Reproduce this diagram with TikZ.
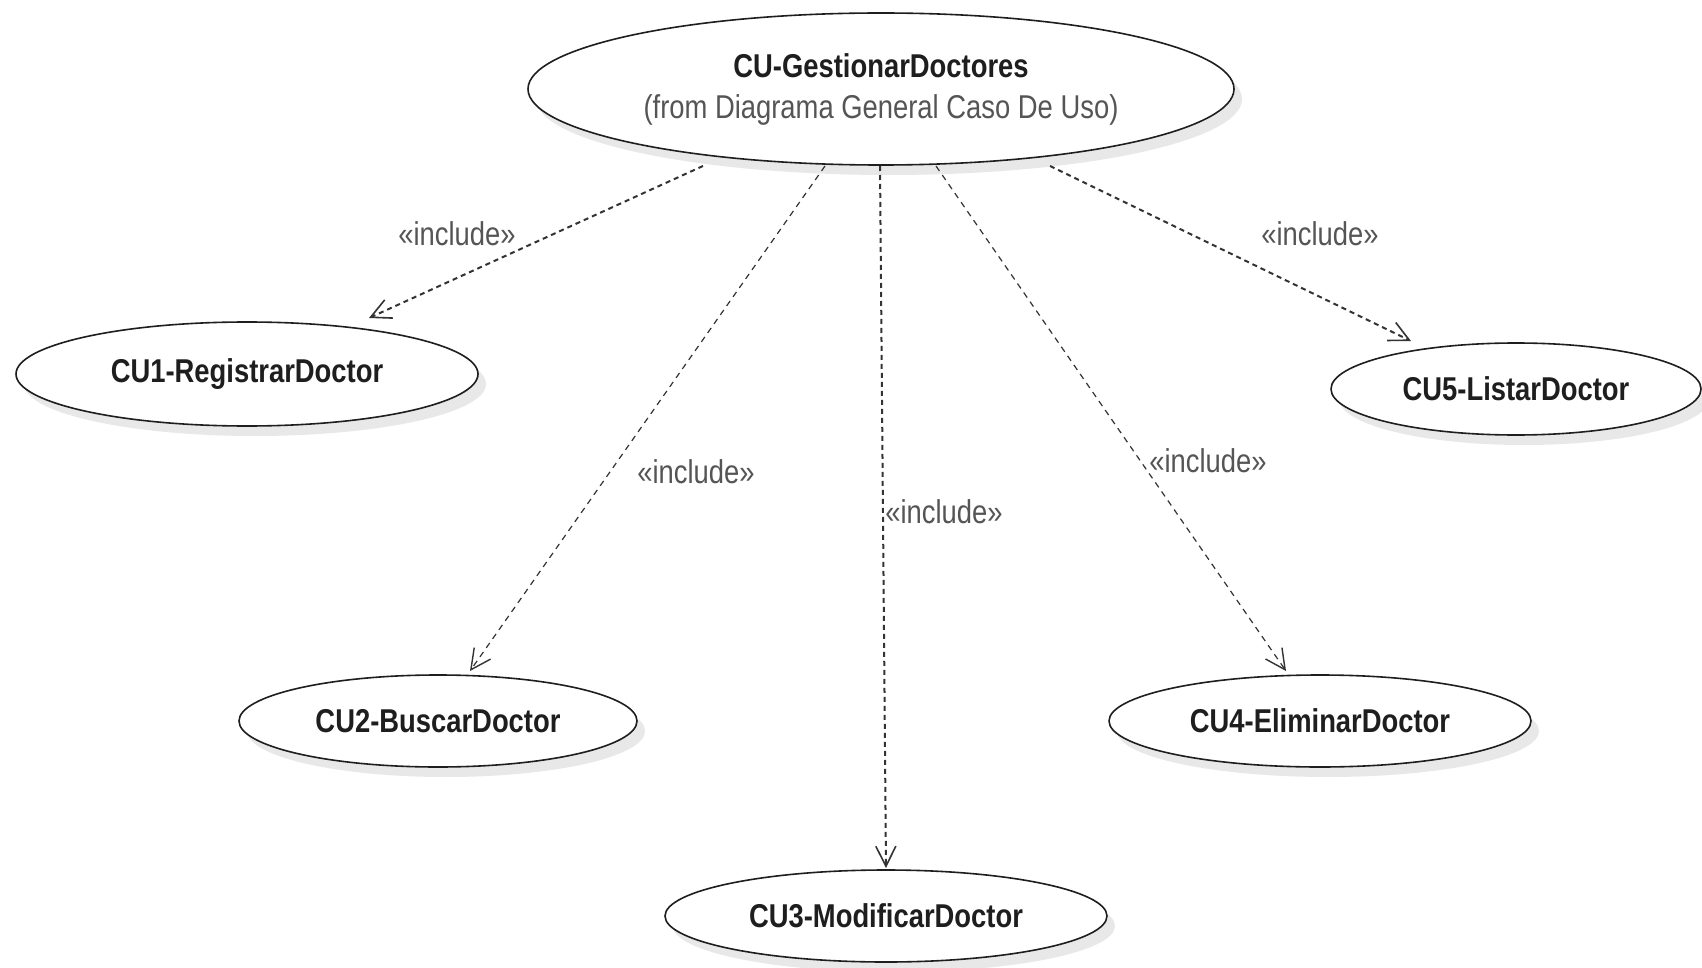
\documentclass[tikz,border=0pt]{standalone}
\usepackage{fontspec}
\setmainfont{Liberation Sans}[FakeStretch=0.83]
\usetikzlibrary{shapes.geometric,arrows.meta,shadows}
\definecolor{lbl}{HTML}{555555}
\definecolor{ink}{HTML}{1E1E1E}
\begin{document}
\begin{tikzpicture}[x=1pt,y=-1pt,
  usecase/.style={ellipse, draw=ink, line width=1.6pt, fill=white, inner sep=0pt,
    font=\fontsize{33}{38}\selectfont\bfseries, text=ink,
    drop shadow={shadow xshift=8pt, shadow yshift=-10pt, fill=black!9, opacity=1}},
  incl/.style={dash pattern=on 5pt off 4pt, line width=2pt, draw=black!80,
    -{Straight Barb[length=20pt,width=20pt,line width=1.6pt]}},
  inclthin/.style={dash pattern=on 6pt off 5pt, line width=1.2pt, draw=black!80,
    -{Straight Barb[length=20pt,width=20pt,line width=1.4pt]}},
  lab/.style={font=\fontsize{33}{38}\selectfont, text=lbl, inner sep=0pt}]
\useasboundingbox (0,0) rectangle (1702,968);
\fill[white] (0,0) rectangle (1702,968);

\node[usecase, minimum width=706pt, minimum height=152pt, align=center] (top) at (881,89)
  {CU-GestionarDoctores\\[3pt]{\mdseries\color{lbl}(from Diagrama General Caso De Uso)}};
\node[usecase, minimum width=462pt, minimum height=104pt] (cu1) at (247,374) {\raisebox{-3pt}{CU1-RegistrarDoctor}};
\node[usecase, minimum width=398pt, minimum height=92pt] (cu2) at (438,721) {\raisebox{-2pt}{CU2-BuscarDoctor}};
\node[usecase, minimum width=442pt, minimum height=92pt] (cu3) at (886,916) {\raisebox{-2pt}{CU3-ModificarDoctor}};
\node[usecase, minimum width=422pt, minimum height=92pt] (cu4) at (1320,721) {\raisebox{-2pt}{CU4-EliminarDoctor}};
\node[usecase, minimum width=370pt, minimum height=92pt] (cu5) at (1516,389) {\raisebox{-2pt}{CU5-ListarDoctor}};

\draw[incl] ([shift={(-178,77)}]top.center) -- ([shift={(122,-56)}]cu1.center);
\draw[inclthin] ([shift={(-56,77)}]top.center) -- ([shift={(32,-50)}]cu2.center);
\draw[incl] ([shift={(-1,77)}]top.center) -- ([shift={(0,-48)}]cu3.center);
\draw[inclthin] ([shift={(55,77)}]top.center) -- ([shift={(-34,-50)}]cu4.center);
\draw[incl] ([shift={(169,77)}]top.center) -- ([shift={(-105,-48)}]cu5.center);

\node[lab] (l1) at (457,234) {«include»};
\node[lab] (l2) at (696,472) {«include»};
\node[lab] (l3) at (944,512) {«include»};
\node[lab] (l4) at (1208,461) {«include»};
\node[lab] (l5) at (1320,234) {«include»};
\end{tikzpicture}
\end{document}
